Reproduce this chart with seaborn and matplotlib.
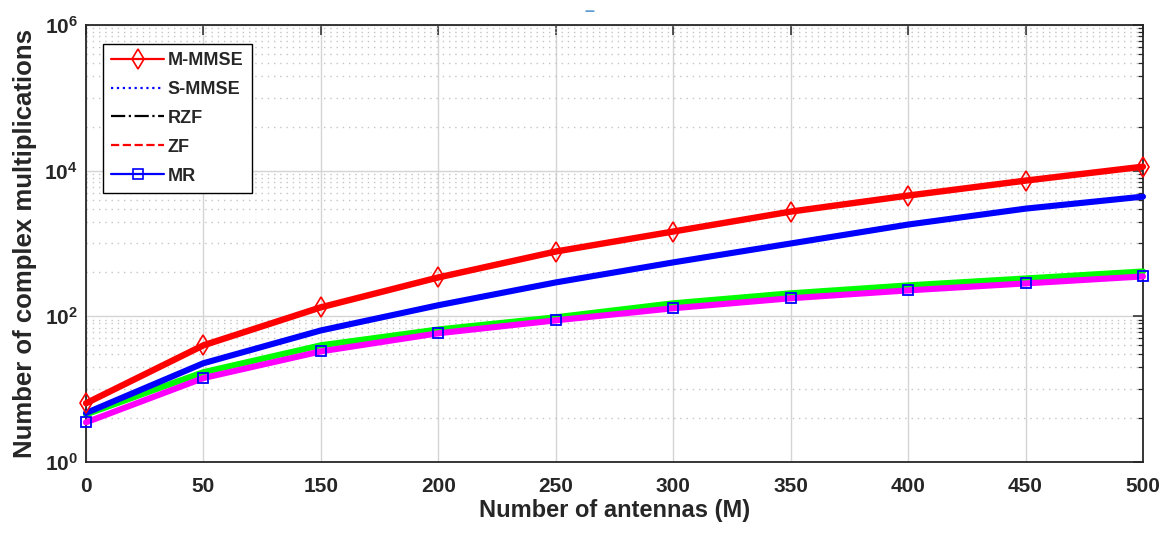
import numpy as np
import pandas as pd
import matplotlib
matplotlib.use("Agg")
import matplotlib.pyplot as plt
import seaborn as sns
from matplotlib.lines import Line2D
from matplotlib.ticker import (FixedLocator, LogFormatterSciNotation,
                               NullLocator, NullFormatter)

# ---------------- data ----------------
antenna_labels = ["0", "50", "150", "200", "250", "300", "350", "400", "450", "500"]
m_mmse = [6.4, 40, 133, 342, 776, 1460, 2740, 4550, 7300, 11350]      # red, diamonds
s_mmse = [4.7, 22.7, 64, 142, 292, 550, 1000, 1820, 3010, 4400]       # blue
rzf_zf = [4.5, 17.1, 40, 66, 97, 151, 207, 266, 331, 413]             # green
mr = [3.5, 14.2, 33, 58.5, 88, 129, 177, 227, 283, 353]               # magenta, squares
legend_labels = ["M-MMSE", "S-MMSE", "RZF", "ZF", "MR"]
y_major = [1e0, 1e2, 1e4, 1e6]
y_minor = ([m * 10.0 ** e for e in (1, 3, 5) for m in range(1, 10)]
           + [4 * 10.0 ** e for e in (0, 2, 4)])

# ---------------- style ----------------
sns.set_style("white")
plt.rcParams["font.family"] = ["Liberation Sans", "DejaVu Sans"]
plt.rcParams["font.weight"] = "bold"
plt.rcParams["mathtext.fontset"] = "custom"
plt.rcParams["mathtext.rm"] = "Liberation Sans:bold"
plt.rcParams["mathtext.it"] = "Liberation Sans:bold"
plt.rcParams["mathtext.bf"] = "Liberation Sans:bold"
plt.rcParams["mathtext.sf"] = "Liberation Sans:bold"

fig = plt.figure(figsize=(11.7, 5.39), dpi=100)
ax = fig.add_axes([0.0735, 0.1429, 0.9034, 0.8107])

pos = np.arange(len(antenna_labels))
df = pd.DataFrame({"pos": pos, "m_mmse": m_mmse, "s_mmse": s_mmse,
                   "rzf_zf": rzf_zf, "mr": mr})

sns.lineplot(data=df, x="pos", y="rzf_zf", ax=ax, color="#00ff00", lw=4.4,
             clip_on=False, zorder=3)
sns.lineplot(data=df, x="pos", y="mr", ax=ax, color="#ff00ff", lw=4.4,
             marker="s", markersize=7, markerfacecolor="none",
             markeredgecolor="#0000ff", markeredgewidth=1.3,
             clip_on=False, zorder=4)
sns.lineplot(data=df, x="pos", y="s_mmse", ax=ax, color="#0000ff", lw=4.4,
             clip_on=False, zorder=5)
sns.lineplot(data=df, x="pos", y="m_mmse", ax=ax, color="#ff0000", lw=4.6,
             marker="d", markersize=10.5, markerfacecolor="none",
             markeredgecolor="#ff0000", markeredgewidth=1.2,
             clip_on=False, zorder=6)

ax.set_yscale("log")
ax.set_ylim(1, 1e6)
ax.set_xlim(pos[0], pos[-1])
ax.yaxis.set_major_locator(FixedLocator(y_major))
ax.yaxis.set_major_formatter(LogFormatterSciNotation())
ax.yaxis.set_minor_locator(FixedLocator(y_minor))
ax.yaxis.set_minor_formatter(NullFormatter())
ax.set_xticks(pos)
ax.set_xticklabels(antenna_labels)
ax.xaxis.set_minor_locator(NullLocator())

ax.set_axisbelow(True)
ax.grid(which="major", axis="both", color="#d4d4d4", lw=1.0, ls="-")
ax.yaxis.grid(which="minor", color="#c4c4c4", lw=1.0, ls=(0, (1, 3.5)))

for s in ax.spines.values():
    s.set_visible(True)
    s.set_color("#262626")
    s.set_linewidth(1.3)

ax.tick_params(which="both", direction="in", top=True, right=True,
               color="#262626")
ax.tick_params(which="major", length=7, width=1.1, labelsize=15, pad=11)
ax.tick_params(axis="y", which="major", pad=6)
ax.tick_params(which="minor", length=3.5, width=0.9)
for t in ax.get_xticklabels():
    t.set_fontweight("bold")
    t.set_color("#262626")
for t in ax.get_yticklabels():
    t.set_color("#262626")

ax.set_xlabel("Number of antennas (M)", fontsize=17, fontweight="bold",
              color="#262626", labelpad=2)
ax.set_ylabel("Number of complex multiplications", fontsize=18.5,
              fontweight="bold", color="#262626", labelpad=5)

handles = [
    Line2D([], [], color="#ff0000", lw=1.6, marker="d", markersize=10.5,
           mfc="none", mec="#ff0000", mew=1.2),
    Line2D([], [], color="#0000ff", lw=1.6, ls=":"),
    Line2D([], [], color="black", lw=1.6, ls="-."),
    Line2D([], [], color="#ff0000", lw=1.6, ls="--"),
    Line2D([], [], color="#0000ff", lw=1.6, marker="s", markersize=7,
           mfc="none", mec="#0000ff", mew=1.2),
]
leg = ax.legend(handles, legend_labels, loc="upper left",
                bbox_to_anchor=(0.016, 0.957), borderaxespad=0,
                frameon=True, fancybox=False, edgecolor="black",
                framealpha=1, prop=dict(family="Liberation Sans",
                                        weight="bold", size=13),
                handlelength=2.95, handletextpad=0.2, labelspacing=0.66,
                borderpad=0.45)
leg.get_frame().set_linewidth(1.0)
leg.set_zorder(10)

fig.text(589 / 1170, 1 - 12 / 539, "\u2013", color="#5b9bd5", fontsize=13,
         ha="center", va="center")

fig.savefig("out.png", dpi=100, facecolor="white")
